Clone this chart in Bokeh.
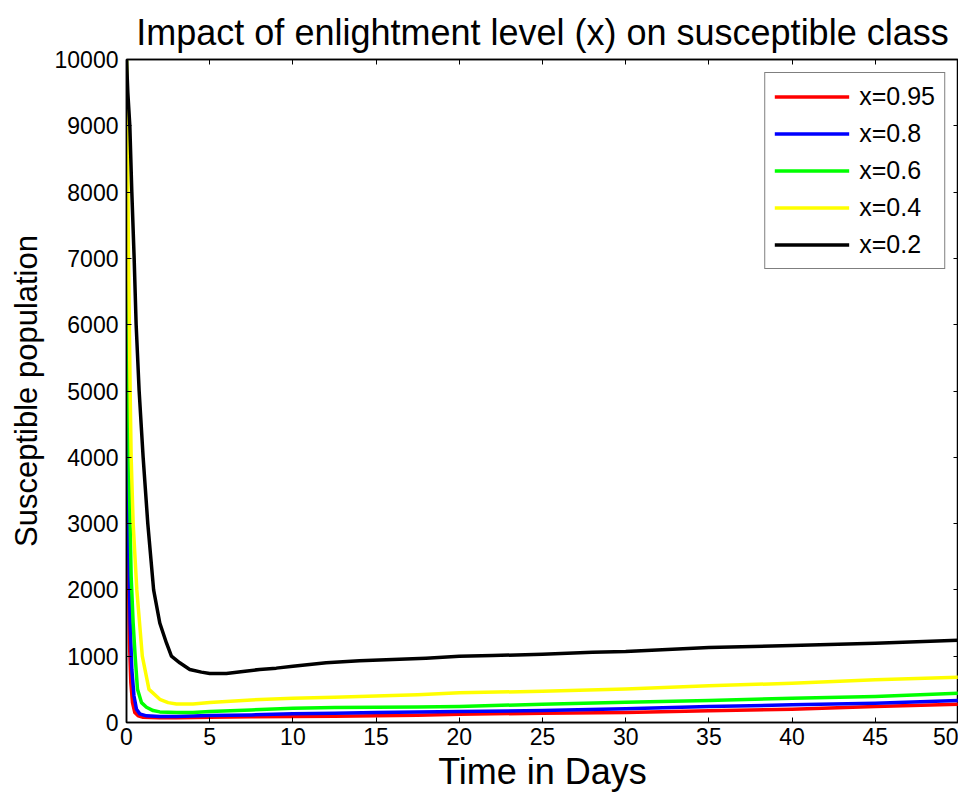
from bokeh.plotting import figure
from bokeh.models import LinearAxis, Legend, LegendItem, Range1d, FixedTicker
from bokeh.embed import file_html
from bokeh.resources import INLINE

# ---- data ----
t_red = [0, 0.02, 0.06, 0.12, 0.18, 0.26, 0.36, 0.5, 0.7, 1.0, 1.5, 2, 3, 5, 7.5, 10, 12.5, 15, 17.5, 20, 25, 30, 35, 40, 45, 50]
s_red = [10000, 7000, 4000, 2200, 1200, 600, 300, 150, 100, 80, 75, 70, 70, 80, 85, 90, 95, 100, 110, 125, 140, 150, 176, 201, 241, 276]

t_blue = [0, 0.03, 0.08, 0.14, 0.22, 0.32, 0.45, 0.6, 0.8, 1.2, 2, 3, 5, 7.5, 10, 12.5, 15, 17.5, 20, 25, 30, 35, 40, 45, 50]
s_blue = [10000, 7000, 4000, 2500, 1500, 800, 400, 200, 130, 100, 90, 90, 105, 115, 131, 140, 150, 158, 166, 181, 206, 241, 266, 291, 331]

t_green = [0, 0.04, 0.1, 0.18, 0.28, 0.4, 0.52, 0.66, 0.9, 1.2, 1.6, 2.0, 3.0, 4.0, 5, 7.5, 10, 12.5, 15, 17.5, 20, 25, 30, 35, 40, 45, 50]
s_green = [10000, 8000, 5500, 3500, 2200, 1500, 1000, 500, 300, 230, 180, 160, 150, 150, 166, 190, 215, 225, 230, 235, 241, 276, 306, 331, 366, 392, 441]

t_yellow = [0, 0.05, 0.12, 0.22, 0.28, 0.4, 0.62, 0.95, 1.35, 2.0, 2.5, 3.0, 4.0, 5, 7.5, 10, 12.5, 15, 17.5, 20, 25, 30, 35, 40, 45, 50]
s_yellow = [10000, 9000, 7000, 5000, 4000, 3000, 2000, 1000, 500, 350, 300, 280, 280, 300, 340, 366, 380, 400, 420, 450, 470, 507, 553, 592, 643, 682]

t_black = [0, 0.08, 0.2, 0.32, 0.46, 0.58, 0.76, 1.0, 1.28, 1.63, 2.0, 2.4, 2.7, 3.2, 3.8, 4.5, 5, 6, 7, 8, 9, 10, 12, 14, 16, 18, 20, 22, 25, 28, 30, 35, 40, 45, 50]
s_black = [10000, 9500, 9000, 8000, 7000, 6000, 5000, 4000, 3000, 2000, 1500, 1200, 1000, 900, 800, 760, 740, 740, 770, 800, 820, 850, 900, 930, 950, 970, 1000, 1010, 1030, 1060, 1070, 1130, 1160, 1195, 1240]

labels = ["x=0.95", "x=0.8", "x=0.6", "x=0.4", "x=0.2"]
colors = ["#FF0000", "#0000FF", "#00FF00", "#FFFF00", "#000000"]
x_ticks = [0, 5, 10, 15, 20, 25, 30, 35, 40, 45, 50]
y_ticks = [0, 1000, 2000, 3000, 4000, 5000, 6000, 7000, 8000, 9000, 10000]

FONT = "Liberation Sans"

p = figure(width=958, height=794, output_backend="svg", toolbar_location=None,
           x_range=Range1d(0, 50), y_range=Range1d(0, 10000),
           min_border_left=126, min_border_right=0, min_border_top=59, min_border_bottom=70,
           title="Impact of enlightment level (x) on susceptible class")

p.title.text_font = FONT
p.title.text_font_size = "36px"
p.title.text_font_style = "normal"
p.title.align = "center"
p.title.vertical_align = "top"
p.title.text_color = "black"
p.title.standoff = 10

p.xgrid.visible = False
p.ygrid.visible = False
p.outline_line_color = "black"
p.outline_line_width = 1.5
p.background_fill_color = "white"
p.border_fill_color = "white"

for ax, ticks in ((p.xaxis[0], x_ticks), (p.yaxis[0], y_ticks)):
    ax.ticker = FixedTicker(ticks=ticks)
    ax.major_tick_in = 5
    ax.major_tick_out = 0
    ax.minor_tick_line_color = None
    ax.axis_line_color = "black"
    ax.axis_line_width = 1.5
    ax.major_label_text_font = FONT
    ax.major_label_text_font_size = "23px"
    ax.major_label_text_color = "black"
    ax.axis_label_text_font = FONT
    ax.axis_label_text_font_style = "normal"
    ax.axis_label_text_color = "black"

p.xaxis[0].axis_label = "Time in Days"
p.xaxis[0].axis_label_text_font_size = "36px"
p.xaxis[0].axis_label_standoff = 3
p.xaxis[0].major_label_standoff = 5
p.yaxis[0].axis_label = "Susceptible population"
p.yaxis[0].axis_label_text_font_size = "31px"
p.yaxis[0].axis_label_standoff = 8
p.yaxis[0].major_label_standoff = 8

top = LinearAxis(ticker=FixedTicker(ticks=x_ticks), major_tick_in=5, major_tick_out=0,
                 minor_tick_line_color=None, major_label_text_font_size="0px",
                 major_label_text_alpha=0, axis_line_width=1.5)
right = LinearAxis(ticker=FixedTicker(ticks=y_ticks), major_tick_in=5, major_tick_out=0,
                   minor_tick_line_color=None, major_label_text_font_size="0px",
                   major_label_text_alpha=0, axis_line_width=1.5)
p.add_layout(top, "above")
p.add_layout(right, "right")

series = [(t_red, s_red), (t_blue, s_blue), (t_green, s_green), (t_yellow, s_yellow), (t_black, s_black)]
renderers = []
for (tt, ss), c in zip(series, colors):
    r = p.line(tt, ss, line_color=c, line_width=3.5, line_join="round")
    renderers.append(r)

legend = Legend(items=[LegendItem(label=l, renderers=[r]) for l, r in zip(labels, renderers)],
                location="top_right")
legend.label_text_font = FONT
legend.label_text_font_size = "25px"
legend.label_text_color = "black"
legend.glyph_width = 75
legend.glyph_height = 27
legend.label_height = 27
legend.spacing = 8
legend.label_standoff = 10
legend.padding = 9
legend.margin = 13
legend.border_line_color = "black"
legend.border_line_width = 1.5
legend.background_fill_color = "white"
p.add_layout(legend)

open("out.html", "w").write(file_html(p, INLINE))
